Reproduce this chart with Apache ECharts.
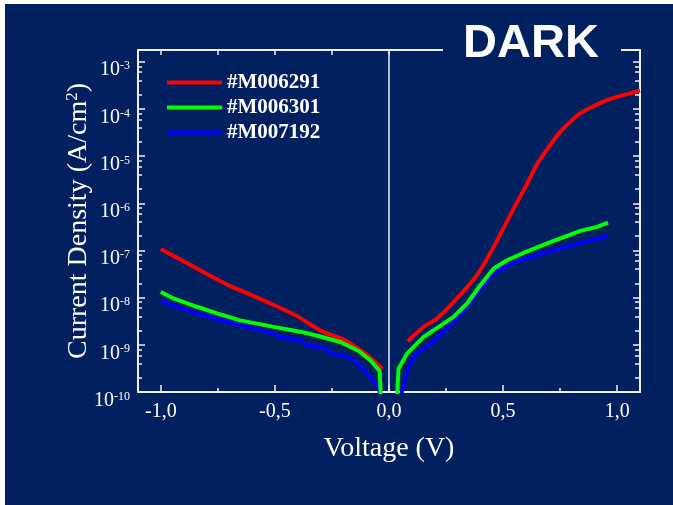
<!DOCTYPE html>
<html>
<head>
<meta charset="utf-8">
<script src="https://cdn.jsdelivr.net/npm/echarts@6/dist/echarts.min.js"></script>
<style>
  html, body { margin: 0; padding: 0; background: #ffffff; }
  #chart {
    width: 673px; height: 505px;
    background: linear-gradient(#002060, #002060) no-repeat 5px 4px / 668px 501px, #ffffff;
  }
</style>
</head>
<body>
<div id="chart"></div>
<script>
// Dark current density vs. voltage for three samples, [V, A/cm^2]
const seriesNames = ['#M006291', '#M006301', '#M007192'];
const seriesColors = ['#ff0000', '#00ff00', '#0000ff'];

const m006291Reverse = [
  [-1.0, 1.07e-7], [-0.9, 5.9e-8], [-0.8, 3.2e-8], [-0.7, 1.8e-8], [-0.6, 1.12e-8],
  [-0.5, 6.8e-9], [-0.4, 4.0e-9], [-0.35, 2.8e-9], [-0.3, 2.0e-9], [-0.25, 1.6e-9],
  [-0.2, 1.3e-9], [-0.15, 9.3e-10], [-0.1, 6.3e-10], [-0.06, 4.3e-10], [-0.03, 3.1e-10]
];
const m006291Forward = [
  [0.082, 1.19e-9], [0.152, 2.4e-9], [0.211, 3.6e-9], [0.298, 9.6e-9], [0.386, 3.0e-8],
  [0.459, 1.19e-7], [0.547, 7.8e-7], [0.6, 2.3e-6], [0.649, 6.8e-6], [0.7, 1.55e-5],
  [0.751, 3.3e-5], [0.8, 5.6e-5], [0.839, 8.1e-5], [0.9, 1.17e-4], [0.956, 1.54e-4],
  [1.0, 1.8e-4], [1.1, 2.45e-4]
];

const m006301Reverse = [
  [-1.0, 1.32e-8], [-0.945, 9.6e-9], [-0.842, 6.4e-9], [-0.75, 4.6e-9], [-0.652, 3.3e-9],
  [-0.506, 2.4e-9], [-0.389, 1.9e-9], [-0.301, 1.5e-9], [-0.214, 1.15e-9], [-0.133, 7.4e-10],
  [-0.082, 4.7e-10], [-0.041, 2.8e-10], [-0.034, 5e-11]
];
const m006301Forward = [
  [0.033, 5e-11], [0.042, 3.1e-10], [0.079, 6.5e-10], [0.152, 1.47e-9], [0.218, 2.4e-9],
  [0.283, 3.9e-9], [0.342, 7.5e-9], [0.4, 1.83e-8], [0.459, 4.15e-8], [0.518, 6.2e-8],
  [0.59, 8.9e-8], [0.693, 1.41e-7], [0.839, 2.6e-7], [0.912, 3.16e-7], [0.96, 3.9e-7]
];

const m007192Reverse = [
  [-1.0, 8.4e-9], [-0.842, 4.6e-9], [-0.652, 2.6e-9], [-0.506, 1.73e-9], [-0.477, 1.47e-9],
  [-0.389, 1.25e-9], [-0.36, 9.8e-10], [-0.287, 8.7e-10], [-0.243, 6.3e-10], [-0.199, 6.0e-10],
  [-0.155, 4.7e-10], [-0.096, 2.45e-10], [-0.046, 1.28e-10], [-0.03, 6e-11]
];
const m007192Forward = [
  [0.04, 5e-11], [0.079, 2.65e-10], [0.115, 6.3e-10], [0.196, 1.15e-9], [0.313, 4.2e-9],
  [0.386, 1.22e-8], [0.459, 3.25e-8], [0.532, 5.1e-8], [0.62, 7.3e-8], [0.766, 1.16e-7],
  [0.96, 2.04e-7]
];

// Axis ticks
const xMajorTicks = [-1.0, -0.5, 0.0, 0.5, 1.0];
const xMinorTicks = [-0.75, -0.25, 0.25, 0.75];
const xAllTicks = [-1.0, -0.75, -0.5, -0.25, 0.0, 0.25, 0.5, 0.75, 1.0];
const yMajorTicks = [1e-10, 1e-9, 1e-8, 1e-7, 1e-6, 1e-5, 1e-4, 1e-3];
const yMinorMantissas = [2, 4, 6, 8];

const yMinorTicks = [];
for (let e = -10; e <= -4; e++) {
  for (const m of yMinorMantissas) yMinorTicks.push(Number((m + 'e' + e)));
}

const X_MIN = -1.1, X_MAX = 1.1;
const Y_MIN = 1e-10, Y_MAX = 1.77e-3;
const frameColor = '#f0f0f0';
const serif = 'Liberation Serif';

const chart = echarts.init(document.getElementById('chart'), null, { renderer: 'canvas' });

function joinBranches(rev, fwd) {
  return rev.concat([[0, '-']], fwd);
}

function xAxisBase(pos) {
  return {
    type: 'value', min: X_MIN, max: X_MAX, position: pos,
    splitLine: { show: false },
    axisLine: { show: false, onZero: false },
    axisLabel: { show: false },
    axisTick: { show: false }
  };
}
function yAxisBase(pos) {
  return {
    type: 'log', logBase: 10, min: Y_MIN, max: Y_MAX, position: pos,
    splitLine: { show: false },
    minorTick: { show: false },
    axisLine: { show: false, onZero: false },
    axisLabel: { show: false },
    axisTick: { show: false }
  };
}
const frameLine = { show: true, onZero: false, lineStyle: { color: frameColor, width: 2 } };

const option = {
  backgroundColor: 'transparent',
  animation: false,
  grid: { left: 138, right: 33, top: 50, bottom: 113, containLabel: false },
  legend: {
    orient: 'vertical',
    left: 167, top: 72, padding: 0,
    icon: 'rect',
    itemWidth: 55, itemHeight: 4, itemGap: 4,
    data: seriesNames,
    textStyle: { color: '#ffffff', fontFamily: serif, fontWeight: 'bold', fontSize: 21, padding: [9, 0, 0, 0] }
  },
  xAxis: [
    Object.assign(xAxisBase('bottom'), {
      name: 'Voltage (V)', nameLocation: 'middle', nameGap: 43,
      nameTextStyle: { color: '#ffffff', fontFamily: serif, fontSize: 28 },
      axisLine: frameLine,
      axisTick: { show: true, inside: true, length: 7, customValues: xMajorTicks, lineStyle: { color: frameColor, width: 1.5 } },
      axisLabel: {
        show: true, margin: 10, customValues: xMajorTicks,
        color: '#ffffff', fontFamily: serif, fontSize: 20,
        formatter: v => v.toFixed(1).replace('.', ',')
      }
    }),
    Object.assign(xAxisBase('bottom'), {
      axisTick: { show: true, inside: true, length: 4, customValues: xMinorTicks, lineStyle: { color: frameColor, width: 1.5 } }
    }),
    Object.assign(xAxisBase('top'), {
      axisLine: frameLine,
      axisTick: { show: true, inside: true, length: 5, customValues: xAllTicks, lineStyle: { color: frameColor, width: 1.5 } }
    })
  ],
  yAxis: [
    Object.assign(yAxisBase('left'), {
      name: '{t|Current Density (A/cm}{s|2}{t|)}',
      nameLocation: 'middle', nameGap: 45, nameRotate: 90, nameMoveOverlap: false,
      nameTextStyle: {
        color: '#ffffff', fontFamily: serif, fontSize: 28,
        rich: {
          t: { color: '#ffffff', fontFamily: serif, fontSize: 28, verticalAlign: 'bottom' },
          s: { color: '#ffffff', fontFamily: serif, fontSize: 17, verticalAlign: 'top', padding: [0, 0, 12, 0] }
        }
      },
      axisLine: frameLine,
      axisTick: { show: true, inside: true, length: 7, customValues: yMajorTicks, lineStyle: { color: frameColor, width: 1.5 } },
      axisLabel: {
        show: true, margin: 8, customValues: yMajorTicks,
        padding: [17, 0, 0, 0],
        formatter: v => '{b|10}{e|' + Math.round(Math.log10(v)) + '}',
        rich: {
          b: { color: '#ffffff', fontFamily: serif, fontSize: 20 },
          e: { color: '#ffffff', fontFamily: serif, fontSize: 12, lineHeight: 10, verticalAlign: 'top' }
        }
      }
    }),
    Object.assign(yAxisBase('left'), {
      axisTick: { show: true, inside: true, length: 4, customValues: yMinorTicks, lineStyle: { color: frameColor, width: 1.5 } }
    }),
    Object.assign(yAxisBase('right'), {
      axisLine: frameLine,
      axisTick: { show: true, inside: true, length: 7, customValues: yMajorTicks, lineStyle: { color: frameColor, width: 1.5 } }
    }),
    Object.assign(yAxisBase('right'), {
      axisTick: { show: true, inside: true, length: 5, customValues: yMinorTicks, lineStyle: { color: frameColor, width: 1.5 } }
    })
  ],
  series: [
    {
      name: seriesNames[0], type: 'line', xAxisIndex: 0, yAxisIndex: 0,
      data: joinBranches(m006291Reverse, m006291Forward),
      showSymbol: false, connectNulls: false, clip: true, smooth: 0.2,
      color: seriesColors[0], lineStyle: { width: 4, color: seriesColors[0] }, z: 3,
      markLine: {
        silent: true, symbol: 'none', label: { show: false },
        lineStyle: { color: '#f0f0f0', width: 1.5, type: 'solid' },
        data: [{ xAxis: 0 }]
      }
    },
    {
      name: seriesNames[1], type: 'line', xAxisIndex: 0, yAxisIndex: 0,
      data: joinBranches(m006301Reverse, m006301Forward),
      showSymbol: false, connectNulls: false, clip: true,
      color: seriesColors[1], lineStyle: { width: 4, color: seriesColors[1] }, z: 4
    },
    {
      name: seriesNames[2], type: 'line', xAxisIndex: 0, yAxisIndex: 0,
      data: joinBranches(m007192Reverse, m007192Forward),
      showSymbol: false, connectNulls: false, clip: true,
      color: seriesColors[2], lineStyle: { width: 4, color: seriesColors[2] }, z: 2
    }
  ],
  graphic: [
    {
      type: 'rect', z: 100,
      shape: { x: 443, y: 42, width: 178, height: 16 },
      style: { fill: '#002060' }
    },
    {
      type: 'text', z: 101,
      x: 531, y: 44,
      style: {
        text: 'DARK', fill: '#ffffff',
        font: 'bold 47px "Liberation Sans", Arial, sans-serif',
        align: 'center', verticalAlign: 'middle'
      }
    }
  ]
};

chart.setOption(option);
</script>
</body>
</html>
